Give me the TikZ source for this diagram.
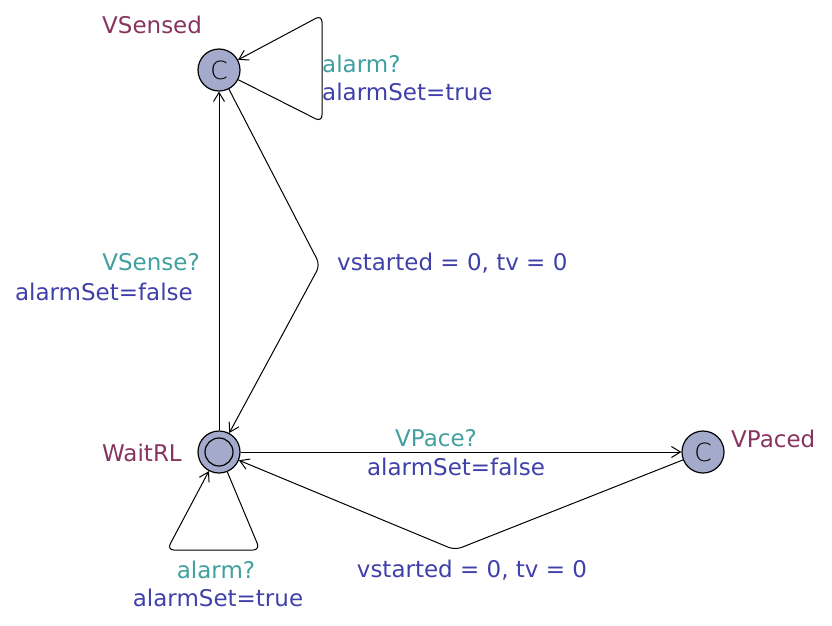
\documentclass[tikz,border=0pt]{standalone}
\usepackage{fontspec}
\setmainfont{DejaVu Sans}
\newfontfamily\thinfont{DejaVu Sans ExtraLight}
\usetikzlibrary{arrows.meta}

\definecolor{locfill}{RGB}{164,170,203}
\definecolor{locname}{RGB}{135,52,96}
\definecolor{syncol}{RGB}{64,160,160}
\definecolor{updcol}{RGB}{64,64,170}

\begin{document}
\begin{tikzpicture}[
    x=1pt, y=-1pt,
    every node/.style={font=\fontsize{23}{27}\selectfont},
    location/.style={
        circle,
        draw,
        line width=1.2pt,
        fill=locfill,
        minimum size=42pt,
        inner sep=0pt
    },
    inner/.style={
        circle,
        draw,
        line width=1.2pt,
        minimum size=28pt,
        inner sep=0pt
    },
    committed/.style={font=\thinfont\fontsize{25}{28}\selectfont, inner sep=0pt},
    lname/.style={text=locname, inner sep=0pt},
    sync/.style={text=syncol, inner sep=0pt},
    upd/.style={text=updcol, inner sep=0pt},
    arr/.style={-{Straight Barb[length=9pt,width=11pt]}, line width=1pt, rounded corners=7pt}
]
    \useasboundingbox (0,0) rectangle (832,625);

    % Locations
    \node[location] (sensed) at (219,70) {};
    \node[committed] (sensedc) at (219,70) {C};
    \node[location] (wait) at (219,452) {};
    \node[inner] (waitin) at (219,452) {};
    \node[location] (paced) at (703,452) {};
    \node[committed] (pacedc) at (703,452) {C};

    \node[lname, anchor=base west] (sensedname) at (102,33) {VSensed};
    \node[lname, anchor=base west] (waitname) at (102,461) {WaitRL};
    \node[lname, anchor=base west] (pacedname) at (731,447) {VPaced};

    % Corners
    \coordinate (loopa) at (322,122);
    \coordinate (loopb) at (322,15);
    \coordinate (bend) at (320,265);
    \coordinate (loopc) at (260,550);
    \coordinate (loopd) at (167,550);
    \coordinate (bendb) at (455,550);

    % Edges
    \draw[arr] (sensed) -- (loopa) -- (loopb) -- (sensed);
    \draw[arr] (wait) -- (sensed);
    \draw[arr] (sensed) -- (bend) -- (wait);
    \draw[arr] (wait) -- (paced);
    \draw[arr] (paced) -- (bendb) -- (wait);
    \draw[arr] (wait) -- (loopc) -- (loopd) -- (wait);

    % Labels
    \node[sync, anchor=base west] (s1) at (322,72) {alarm?};
    \node[upd, anchor=base west] (u1) at (322,100) {alarmSet=true};

    \node[sync, anchor=base east] (s2) at (200,270) {VSense?};
    \node[upd, anchor=base east] (u2) at (193,300) {alarmSet=false};

    \node[upd, anchor=base west] (u3) at (337,270) {vstarted = 0, tv = 0};

    \node[sync, anchor=base] (s4) at (436,446) {VPace?};
    \node[upd, anchor=base] (u4) at (456,475) {alarmSet=false};

    \node[upd, anchor=base] (u5) at (472,577) {vstarted = 0, tv = 0};

    \node[sync, anchor=base] (s6) at (216,578) {alarm?};
    \node[upd, anchor=base] (u6) at (218,606) {alarmSet=true};

\end{tikzpicture}
\end{document}
